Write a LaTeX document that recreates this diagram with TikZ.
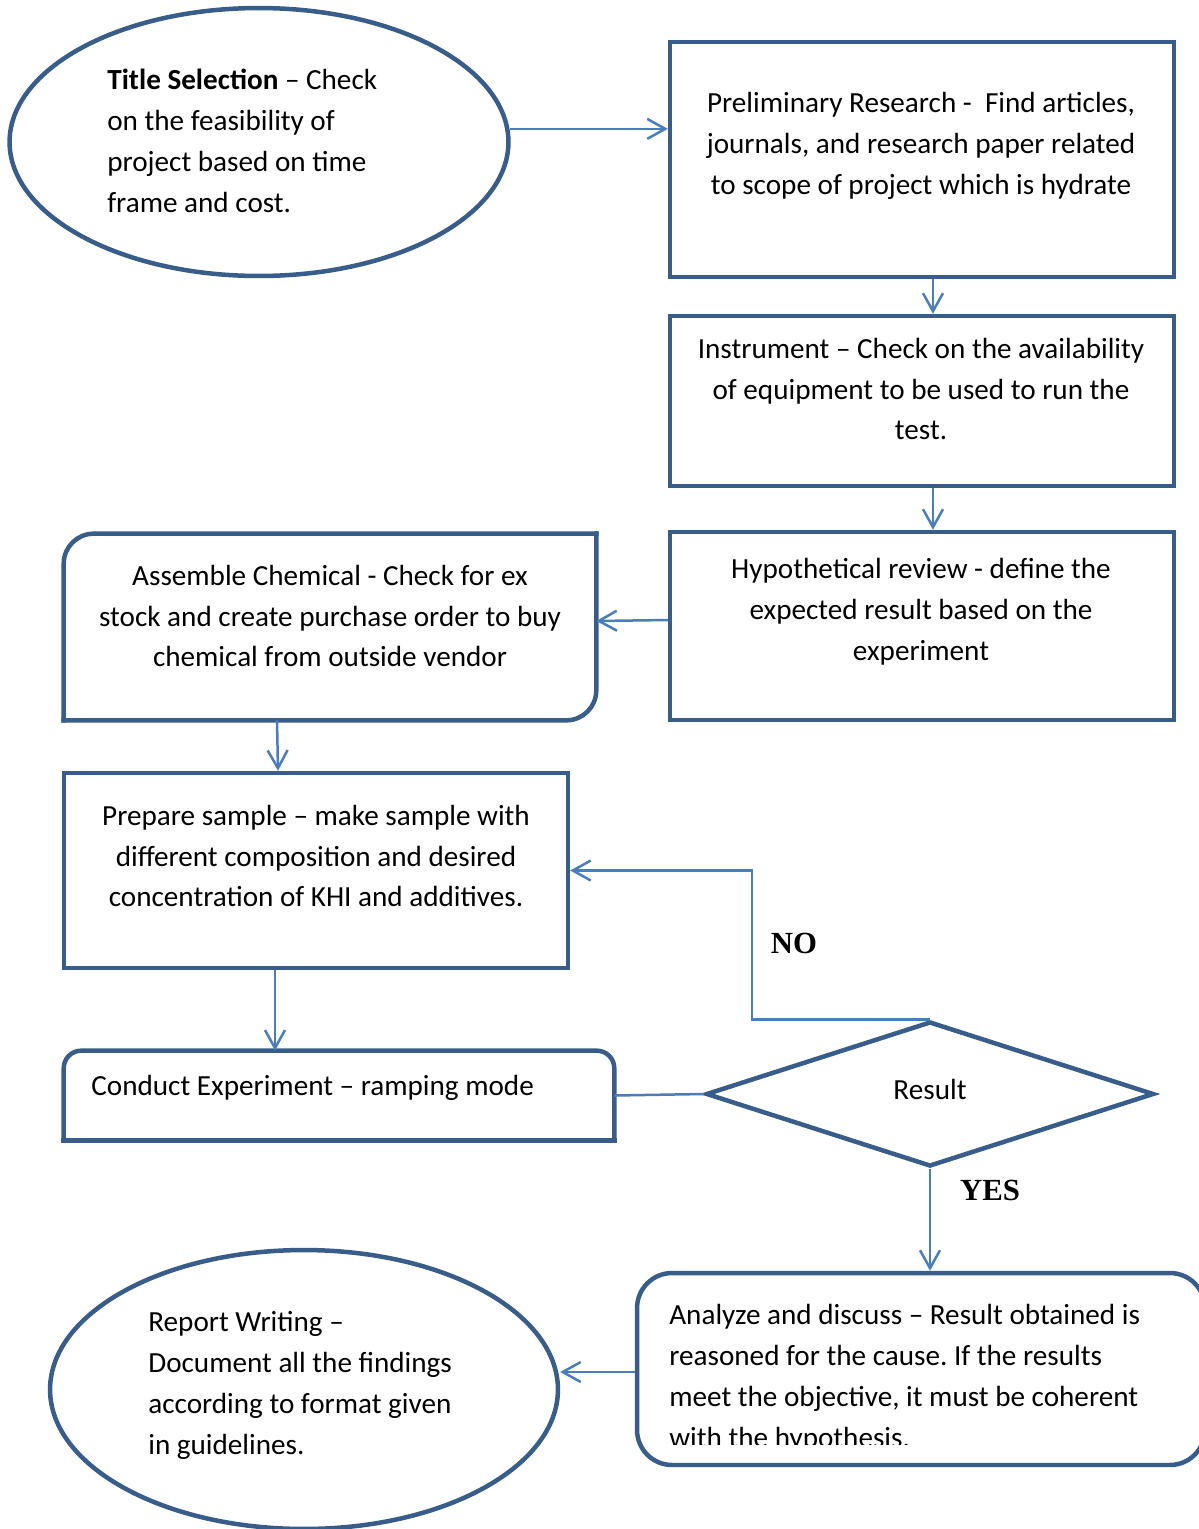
\documentclass[tikz,border=0pt]{standalone}
\usepackage{fontspec}
\setmainfont{Carlito}
\newfontfamily\answerfont{Liberation Serif}
\frenchspacing
\usetikzlibrary{shapes.geometric,arrows.meta}
\definecolor{framecol}{RGB}{56,93,138}
\definecolor{linkcol}{RGB}{74,126,187}
\begin{document}
\begin{tikzpicture}[x=0.02cm, y=-0.02cm,
  frame/.style={draw=framecol, line width=0.09cm, rectangle, inner sep=0},
  bare/.style={rectangle, inner sep=0},
  outline/.style={draw=framecol, line width=0.09cm, line cap=rect},
  txt/.style={font=\fontsize{16.6}{23.3}\selectfont, inner sep=0, align=center},
  link/.style={draw=linkcol, line width=0.05cm},
  arrow/.style={link, -{Straight Barb[length=0.36cm, width=0.4cm]}},
  answer/.style={font=\answerfont\bfseries\fontsize{17.5}{20}\selectfont, inner sep=0}]
\useasboundingbox (0,0) rectangle (1199,1529);

% right column of plain boxes
\foreach \name/\y/\h in {prelim/159.5/4.70, instrument/401/3.40, hypo/626/3.76}
  \node[frame, minimum width=10.08cm, minimum height=\h cm] (\name) at (922,\y) {};
\node[txt] (prelimtext) at (921,146) {Preliminary Research - \ Find articles,\\journals, and research paper related\\to scope of project which is hydrate};
\node[txt] (instrumenttext) at (921,389) {Instrument – Check on the availability\\of equipment to be used to run the\\test.};
\node[txt] (hypotext) at (921,612) {Hypothetical review - define the\\expected result based on the\\experiment};

% ellipses
\node[frame, ellipse, minimum width=9.98cm, minimum height=5.36cm] (title) at (259,142) {};
\node[txt, align=left, anchor=west] (titletext) at (107,141) {\textbf{Title Selection} – Check\\on the feasibility of\\project based on time\\frame and cost.};
\node[frame, ellipse, minimum width=10.16cm, minimum height=5.58cm] (report) at (304,1389.5) {};
\node[txt, align=left, anchor=west] (reporttext) at (148,1385) {Report Writing –\\Document all the findings\\according to format given\\in guidelines.};

% left column
\node[bare, minimum width=10.64cm, minimum height=3.72cm] (assemble) at (330,627) {};
\draw[outline, rounded corners=0.6cm] (assemble.south west) -- (assemble.north west) -- (assemble.north east);
\draw[outline, rounded corners=0.6cm] (assemble.north east) -- (assemble.south east) -- (assemble.south west);
\node[txt] (assembletext) at (330,616) {Assemble Chemical - Check for ex\\stock and create purchase order to buy\\chemical from outside vendor};
\node[frame, minimum width=10.08cm, minimum height=3.90cm] (prepare) at (316,870.5) {};
\node[txt] (preparetext) at (316,856) {Prepare sample – make sample with\\different composition and desired\\concentration of KHI and additives.};
\node[bare, minimum width=11cm, minimum height=1.78cm] (conduct) at (339,1095.5) {};
\draw[outline, rounded corners=0.35cm] (conduct.south west) -- (conduct.north west) -- (conduct.north east) -- (conduct.south east);
\draw[outline] (conduct.south east) -- (conduct.south west);
\node[txt, anchor=west] (conducttext) at (91,1088) {Conduct Experiment – ramping mode};

% decision and discussion
\node[frame, diamond, txt, text depth=0.2cm, minimum width=8.96cm, minimum height=2.9cm] (result) at (930,1094) {Result};
\node[frame, rounded corners=0.7cm, minimum width=11.36cm, minimum height=3.84cm] (analyze) at (921,1369) {};
\begin{scope}
  \clip (637,1273) rectangle (1199,1444);
  \node[txt, align=left, anchor=west] (analyzetext) at (669,1378) {Analyze and discuss – Result obtained is\\reasoned for the cause. If the results\\meet the objective, it must be coherent\\with the hypothesis.};
\end{scope}
\node[answer] (no) at (794,943) {NO};
\node[answer] (yes) at (990,1190) {YES};

% connectors
\draw[arrow] (title.3) -- (title.3 -| prelim.west);
\draw[arrow] ([xshift=0.22cm]prelim.south) -- ([xshift=0.22cm]instrument.north);
\draw[arrow] ([xshift=0.22cm]instrument.south) -- ([xshift=0.22cm]hypo.north);
\draw[arrow] ([yshift=0.12cm]hypo.west) -- ([yshift=0.12cm]assemble.east);
\draw[arrow] ([xshift=-1.06cm]assemble.south) -- ([xshift=-0.76cm]prepare.north);
\draw[arrow] ([xshift=-0.82cm]prepare.south) -- ([xshift=-0.82cm]prepare.south |- conduct.north);
\draw[link] (conduct.east) -- (result.west);
\draw[arrow] (result.north) -| ([xshift=3.64cm]prepare.east) -- (prepare.east);
\draw[arrow] (result.south) -- (result.south |- analyze.north);
\draw[arrow] ([yshift=-0.06cm]analyze.west) -- ([yshift=-0.06cm]analyze.west -| report.east);
\end{tikzpicture}
\end{document}
